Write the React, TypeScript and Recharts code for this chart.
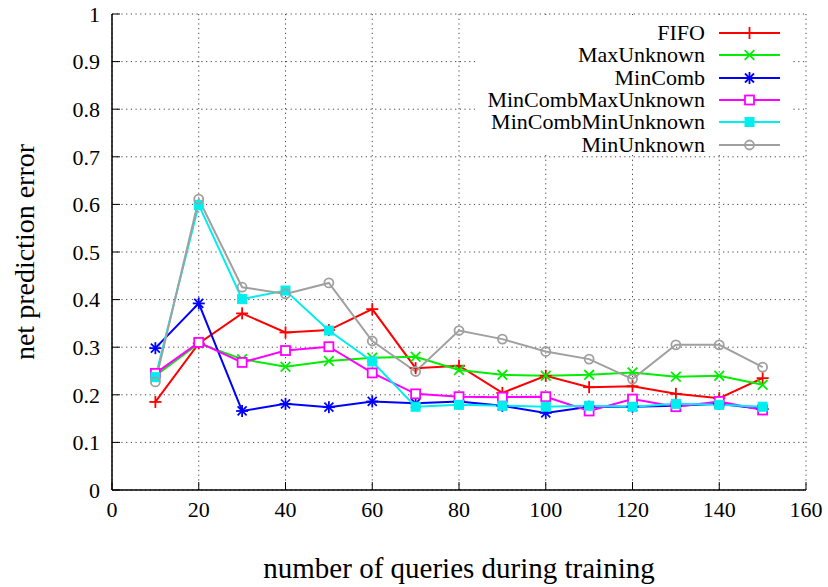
import React from 'react';
import { LineChart, Line, XAxis, YAxis, CartesianGrid } from 'recharts';

const queries = [10, 20, 30, 40, 50, 60, 70, 80, 90, 100, 110, 120, 130, 140, 150];
const fifo = [0.185, 0.308, 0.371, 0.331, 0.336, 0.380, 0.256, 0.261, 0.204, 0.240, 0.216, 0.218, 0.202, 0.193, 0.235];
const maxUnknown = [0.240, 0.308, 0.275, 0.259, 0.271, 0.278, 0.280, 0.252, 0.242, 0.240, 0.242, 0.247, 0.238, 0.240, 0.221];
const minComb = [0.298, 0.392, 0.166, 0.181, 0.174, 0.186, 0.182, 0.186, 0.177, 0.162, 0.175, 0.175, 0.177, 0.181, 0.170];
const minCombMaxUnknown = [0.245, 0.310, 0.268, 0.293, 0.301, 0.246, 0.202, 0.196, 0.195, 0.196, 0.166, 0.191, 0.175, 0.186, 0.168];
const minCombMinUnknown = [0.237, 0.599, 0.401, 0.419, 0.335, 0.270, 0.175, 0.179, 0.177, 0.175, 0.177, 0.175, 0.181, 0.179, 0.175];
const minUnknown = [0.227, 0.611, 0.426, 0.412, 0.435, 0.313, 0.249, 0.335, 0.317, 0.291, 0.275, 0.233, 0.305, 0.305, 0.258];

const xTicks = [0, 20, 40, 60, 80, 100, 120, 140, 160];
const yTicks = [0, 0.1, 0.2, 0.3, 0.4, 0.5, 0.6, 0.7, 0.8, 0.9, 1];

const series = [
  { key: 'FIFO', values: fifo, color: '#ff0000', marker: 'plus' },
  { key: 'MaxUnknown', values: maxUnknown, color: '#00ee00', marker: 'cross' },
  { key: 'MinComb', values: minComb, color: '#0000ff', marker: 'star' },
  { key: 'MinCombMaxUnknown', values: minCombMaxUnknown, color: '#ff00ff', marker: 'square' },
  { key: 'MinCombMinUnknown', values: minCombMinUnknown, color: '#00eeee', marker: 'fsquare' },
  { key: 'MinUnknown', values: minUnknown, color: '#a0a0a0', marker: 'circle' },
];

const data = queries.map((q, i) => {
  const row: any = { q };
  series.forEach((s) => { row[s.key] = s.values[i]; });
  return row;
});

const FONT = "'Liberation Serif', 'Times New Roman', serif";

function Marker({ kind, color, cx, cy }: { kind: string; color: string; cx: number; cy: number }) {
  const r = 6;
  const sw = 1.8;
  if (kind === 'plus') {
    return (
      <g stroke={color} strokeWidth={sw}>
        <line x1={cx - r} y1={cy} x2={cx + r} y2={cy} />
        <line x1={cx} y1={cy - r} x2={cx} y2={cy + r} />
      </g>
    );
  }
  if (kind === 'cross') {
    const d = r * 0.8;
    return (
      <g stroke={color} strokeWidth={sw}>
        <line x1={cx - d} y1={cy - d} x2={cx + d} y2={cy + d} />
        <line x1={cx - d} y1={cy + d} x2={cx + d} y2={cy - d} />
      </g>
    );
  }
  if (kind === 'star') {
    const d = r * 0.75;
    return (
      <g stroke={color} strokeWidth={sw}>
        <line x1={cx - r} y1={cy} x2={cx + r} y2={cy} />
        <line x1={cx} y1={cy - r} x2={cx} y2={cy + r} />
        <line x1={cx - d} y1={cy - d} x2={cx + d} y2={cy + d} />
        <line x1={cx - d} y1={cy + d} x2={cx + d} y2={cy - d} />
      </g>
    );
  }
  if (kind === 'square') {
    return <rect x={cx - 4.5} y={cy - 4.5} width={9} height={9} fill="#fff" stroke={color} strokeWidth={sw} />;
  }
  if (kind === 'fsquare') {
    return <rect x={cx - 4.5} y={cy - 4.5} width={9} height={9} fill={color} stroke={color} strokeWidth={1} />;
  }
  return <circle cx={cx} cy={cy} r={4.5} fill="none" stroke={color} strokeWidth={sw} />;
}

function makeDot(kind: string, color: string) {
  return (props: any) => {
    const { cx, cy, index } = props;
    if (cx == null || cy == null) return <g key={index} />;
    return <Marker key={index} kind={kind} color={color} cx={cx} cy={cy} />;
  };
}

function LegendBox() {
  return (
    <div style={{ position: 'absolute', left: 478, top: 15, background: '#fff', width: 315, height: 139, fontFamily: FONT }}>
      {series.map((s, i) => {
        const cy = 18 + i * 22.3;
        return (
          <div key={s.key} style={{ position: 'absolute', left: 0, top: cy - 11, width: 315, height: 22 }}>
            <span style={{ position: 'absolute', right: 315 - 227, top: 0, fontSize: 22, lineHeight: '22px', color: '#000', whiteSpace: 'nowrap', fontFamily: FONT }}>
              {s.key}
            </span>
            <svg style={{ position: 'absolute', left: 236, top: 0 }} width={70} height={22}>
              <line x1={5} y1={11} x2={66} y2={11} stroke={s.color} strokeWidth={2} />
              <Marker kind={s.marker} color={s.color} cx={35.5} cy={11} />
            </svg>
          </div>
        );
      })}
    </div>
  );
}

export default function App() {
  return (
    <div style={{ position: 'absolute', left: 0, top: 0, width: 828, height: 587, background: '#fff', fontFamily: FONT }}>
      <LineChart width={828} height={587} data={data} margin={{ top: 14, right: 22, bottom: 0, left: 0 }} style={{ fontFamily: FONT }}>
        <CartesianGrid stroke="#444" strokeDasharray="1.2 3.5" strokeWidth={1} xAxisId="b" yAxisId="l" />
        <XAxis
          xAxisId="b"
          dataKey="q"
          type="number"
          domain={[0, 160]}
          ticks={xTicks}
          height={97}
          axisLine={{ stroke: '#000', strokeWidth: 1.5 }}
          tickLine={{ stroke: '#000', strokeWidth: 1 }}
          tickSize={-8}
          tickMargin={19}
          tick={{ fill: '#000', fontSize: 22, fontFamily: FONT }}
          label={{ value: 'number of queries during training', position: 'insideBottom', offset: 9, fill: '#000', fontSize: 29, fontFamily: FONT }}
        />
        <XAxis
          xAxisId="t"
          orientation="top"
          dataKey="q"
          type="number"
          domain={[0, 160]}
          ticks={xTicks}
          height={0}
          axisLine={{ stroke: '#000', strokeWidth: 1.5 }}
          tickLine={{ stroke: '#000', strokeWidth: 1 }}
          tickSize={-8}
          tick={false}
        />
        <YAxis
          yAxisId="l"
          type="number"
          domain={[0, 1]}
          ticks={yTicks}
          width={112}
          axisLine={{ stroke: '#000', strokeWidth: 1.5 }}
          tickLine={{ stroke: '#000', strokeWidth: 1 }}
          tickSize={-8}
          tickMargin={20}
          tick={{ fill: '#000', fontSize: 22, fontFamily: FONT }}
          label={{ value: 'net prediction error', angle: -90, position: 'insideLeft', offset: 24, fill: '#000', fontSize: 28, fontFamily: FONT, textAnchor: 'middle' }}
        />
        <YAxis
          yAxisId="r"
          orientation="right"
          type="number"
          domain={[0, 1]}
          ticks={yTicks}
          width={0}
          axisLine={{ stroke: '#000', strokeWidth: 1.5 }}
          tickLine={{ stroke: '#000', strokeWidth: 1 }}
          tickSize={-8}
          tick={false}
        />
        {series.map((s) => (
          <Line
            key={s.key}
            xAxisId="b"
            yAxisId="l"
            type="linear"
            dataKey={s.key}
            stroke={s.color}
            strokeWidth={2}
            dot={makeDot(s.marker, s.color)}
            isAnimationActive={false}
          />
        ))}
      </LineChart>
      <LegendBox />
    </div>
  );
}
